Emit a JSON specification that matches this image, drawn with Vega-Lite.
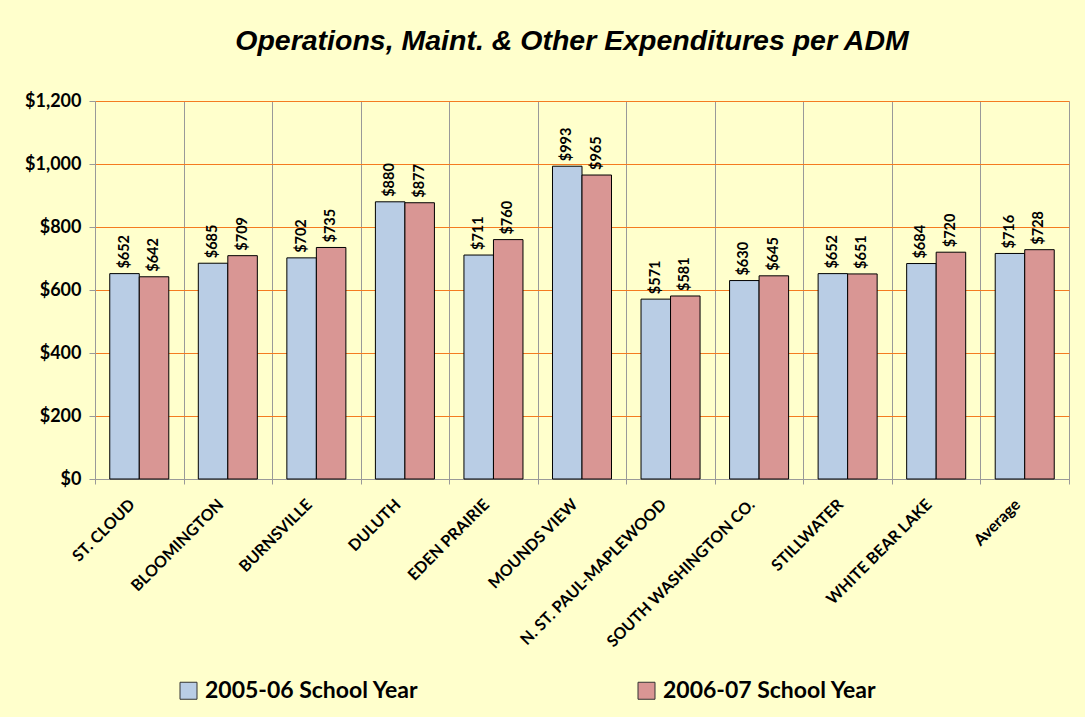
{
  "$schema": "https://vega.github.io/schema/vega-lite/v6.json",
  "width": 974,
  "height": 378,
  "autosize": {"type": "none"},
  "padding": {"left": 95, "top": 101, "right": 16, "bottom": 238},
  "background": "#FFFFCC",
  "title": {
    "text": "Operations, Maint. & Other  Expenditures per ADM",
    "font": "Liberation Sans",
    "fontSize": 28.5,
    "fontWeight": "bold",
    "fontStyle": "italic",
    "color": "#000000",
    "anchor": "middle",
    "baseline": "alphabetic",
    "offset": 14,
    "dx": -10
  },
  "data": {
    "values": [
      {"district": "ST. CLOUD", "year": "2005-06 School Year", "value": 652},
      {"district": "ST. CLOUD", "year": "2006-07 School Year", "value": 642},
      {"district": "BLOOMINGTON", "year": "2005-06 School Year", "value": 685},
      {"district": "BLOOMINGTON", "year": "2006-07 School Year", "value": 709},
      {"district": "BURNSVILLE", "year": "2005-06 School Year", "value": 702},
      {"district": "BURNSVILLE", "year": "2006-07 School Year", "value": 735},
      {"district": "DULUTH", "year": "2005-06 School Year", "value": 880},
      {"district": "DULUTH", "year": "2006-07 School Year", "value": 877},
      {"district": "EDEN PRAIRIE", "year": "2005-06 School Year", "value": 711},
      {"district": "EDEN PRAIRIE", "year": "2006-07 School Year", "value": 760},
      {"district": "MOUNDS VIEW", "year": "2005-06 School Year", "value": 993},
      {"district": "MOUNDS VIEW", "year": "2006-07 School Year", "value": 965},
      {"district": "N. ST. PAUL-MAPLEWOOD", "year": "2005-06 School Year", "value": 571},
      {"district": "N. ST. PAUL-MAPLEWOOD", "year": "2006-07 School Year", "value": 581},
      {"district": "SOUTH WASHINGTON CO.", "year": "2005-06 School Year", "value": 630},
      {"district": "SOUTH WASHINGTON CO.", "year": "2006-07 School Year", "value": 645},
      {"district": "STILLWATER", "year": "2005-06 School Year", "value": 652},
      {"district": "STILLWATER", "year": "2006-07 School Year", "value": 651},
      {"district": "WHITE BEAR LAKE", "year": "2005-06 School Year", "value": 684},
      {"district": "WHITE BEAR LAKE", "year": "2006-07 School Year", "value": 720},
      {"district": "Average", "year": "2005-06 School Year", "value": 716},
      {"district": "Average", "year": "2006-07 School Year", "value": 728}
    ]
  },
  "encoding": {
    "x": {
      "field": "district",
      "type": "nominal",
      "sort": null,
      "scale": {"paddingInner": 0, "paddingOuter": 0},
      "axis": {
        "title": null,
        "labelAngle": -45,
        "labelFont": "Lato",
        "labelFontSize": 16,
        "labelFontWeight": "bold",
        "labelColor": "#000000",
        "labelPadding": 12,
        "labelOffset": -13,
        "tickBand": "extent",
        "grid": true,
        "gridColor": "#999999",
        "gridWidth": 1,
        "ticks": true,
        "tickColor": "#999999",
        "tickSize": 5,
        "domainColor": "#999999",
        "labelLimit": 300
      }
    },
    "xOffset": {
      "field": "year",
      "type": "nominal",
      "scale": {"paddingInner": 0, "paddingOuter": 0.5}
    },
    "y": {
      "field": "value",
      "type": "quantitative",
      "scale": {"domain": [0, 1200], "nice": false},
      "axis": {
        "title": null,
        "values": [0, 200, 400, 600, 800, 1000, 1200],
        "format": "$,.0f",
        "labelFont": "Lato",
        "labelFontSize": 18,
        "labelFontWeight": "bold",
        "labelColor": "#000000",
        "labelPadding": 8,
        "grid": true,
        "gridColor": "#F47B20",
        "gridWidth": 1,
        "tickColor": "#999999",
        "tickSize": 6,
        "domainColor": "#999999"
      }
    }
  },
  "layer": [
    {
      "mark": {"type": "bar", "stroke": "#000000", "strokeWidth": 1, "opacity": 1},
      "encoding": {
        "color": {
          "field": "year",
          "type": "nominal",
          "scale": {"range": ["#B9CDE5", "#D99694"]},
          "legend": {
            "title": null,
            "orient": "none",
            "legendX": 82,
            "legendY": 578,
            "direction": "horizontal",
            "columns": 2,
            "columnPadding": 216,
            "symbolType": "square",
            "symbolSize": 289,
            "symbolStrokeColor": "#333333",
            "symbolStrokeWidth": 1,
            "symbolOpacity": 1,
            "labelFont": "Lato",
            "labelFontSize": 23,
            "labelFontWeight": "bold",
            "labelColor": "#000000",
            "labelOffset": 5,
            "labelLimit": 400
          }
        }
      }
    },
    {
      "mark": {
        "type": "text",
        "angle": 270,
        "align": "left",
        "baseline": "middle",
        "dx": 5,
        "font": "Lato",
        "fontSize": 14.5,
        "fontWeight": "bold",
        "color": "#000000"
      },
      "encoding": {
        "text": {"field": "value", "type": "quantitative", "format": "$,.0f"}
      }
    }
  ]
}
